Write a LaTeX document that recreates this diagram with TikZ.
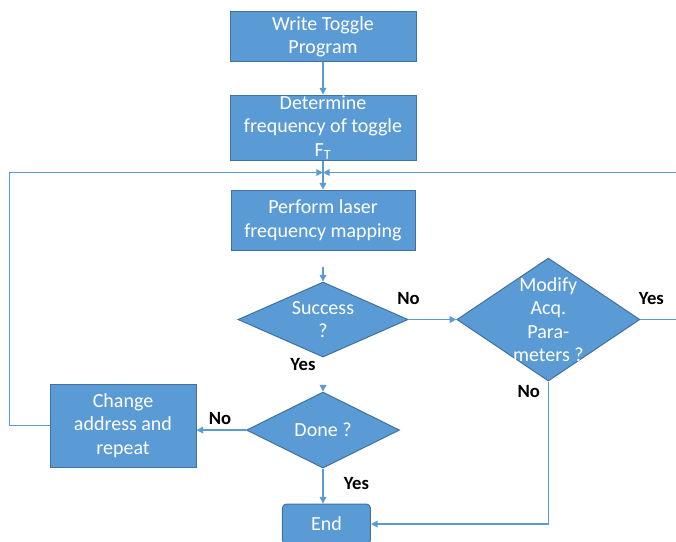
\documentclass[tikz,border=0pt]{standalone}
\usepackage{fontspec}
\setmainfont{Carlito}
\usetikzlibrary{arrows.meta,positioning,shapes.geometric}
\definecolor{boxblue}{HTML}{5B9BD5}
\definecolor{edgeblue}{HTML}{41719C}

\begin{document}
\begin{tikzpicture}[x=0.75pt,y=-0.75pt,>={Triangle[length=5pt,width=5pt]},node distance=70pt,on grid,
  box/.style={rectangle,draw=edgeblue,fill=boxblue,text=white,align=center,inner sep=0pt,line width=0.75pt,font=\fontsize{15}{17.6}\selectfont},
  test/.style={diamond,draw=edgeblue,fill=boxblue,inner sep=0pt,line width=0.75pt,label={[text=white,align=center,font=\fontsize{15}{17.4}\selectfont]center:#1}},
  lbl/.style={font=\fontsize{14}{16}\selectfont\bfseries},
  link/.style={->,draw=boxblue,line width=1pt}]
  \useasboundingbox (0,0) rectangle (676,542);

  \node[box,minimum width=139.5pt,minimum height=37.5pt] (prog) at (323,37) {Write Toggle\\Program};
  \node[box,minimum width=139.5pt,minimum height=48.75pt] (freq) [below=67.9pt of prog] {Determine\\frequency of toggle\\F\textsubscript{T}};
  \node[box,minimum width=138pt,minimum height=45pt]    (map)  [below=69.4pt of freq] {Perform laser\\frequency mapping};
  \node[test={Success\\?},minimum width=127.5pt,minimum height=56.25pt] (succ) [below=74.6pt of map] {};
  \node[test={Modify\\Acq.\\Para-\\meters ?},minimum width=137.25pt,minimum height=92.25pt] (modify) [right=169pt of succ] {};
  \node[test={Done ?},minimum width=114.75pt,minimum height=57pt] (done) [below=82.9pt of succ] {};
  \node[box,minimum width=109.5pt,minimum height=62.25pt] (change) [left=150pt of done,yshift=3.4pt] {Change\\address and\\repeat};
  \node[box,rounded corners=3pt,minimum width=66pt,minimum height=30pt] (end) [below=70.5pt of done,xshift=2.6pt] {End};
  \coordinate[below=9pt of freq.south] (join);

  % answers
  \node[lbl] (succno)   at ([shift={(0,-21.5)}]succ.east)    {No};
  \node[lbl] (succyes)  at ([shift={(-20,7)}]succ.south)     {Yes};
  \node[lbl] (modyes)   at ([shift={(11,-21.5)}]modify.east) {Yes};
  \node[lbl] (modno)    at ([shift={(-19.5,10)}]modify.south) {No};
  \node[lbl] (doneno)   at ([shift={(-26,-12)}]done.west)    {No};
  \node[lbl] (doneyes)  at ([shift={(33.5,15)}]done.south)   {Yes};

  \draw[link] (prog) -- (freq);
  \draw[link] (freq) -- (map);
  \draw[link,shorten <=12pt] (map) -- (succ);
  \draw[link] (succ) -- (modify);
  \draw[link,shorten <=21pt] (succ) -- (done);
  \draw[link] (done) -- (done -| change.east);
  \draw[link] (done) -- (done.south |- end.north);
  \draw[link] (modify) |- (end);
  % loops back
  \draw[link] (change.west) -- ++(-40,0) |- (join);
  \draw[link] (modify.east) -- ++(50,0) |- (join);
\end{tikzpicture}
\end{document}
